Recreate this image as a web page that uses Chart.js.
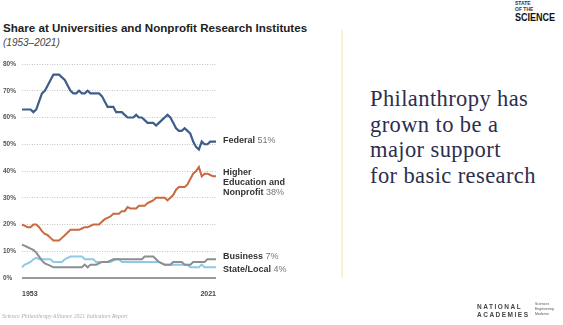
<!DOCTYPE html>
<html>
<head>
<meta charset="utf-8">
<script src="https://cdn.jsdelivr.net/npm/chart.js@4.4.1/dist/chart.umd.min.js"></script>
<style>
  html, body { margin: 0; padding: 0; background: #fff; }
  body { width: 563px; height: 325px; position: relative; overflow: hidden; font-family: 'Liberation Sans', Arial, sans-serif; }
  #wrap { position: absolute; left: 0; top: 0; width: 330px; height: 325px; }
  .t { position: absolute; white-space: nowrap; }
  #rule { position: absolute; left: 341px; top: 30px; width: 2px; height: 248px; background: #fbf1d4; }
  #msg { left: 370px; top: 86px; font-family: 'Liberation Serif', 'DejaVu Serif', serif; font-size: 22.5px; line-height: 25.5px; color: #2c2e4e; letter-spacing: 0.4px; }
</style>
</head>
<body>
<div class="t" style="left:3px;top:21px;font-weight:bold;font-size:11.6px;color:#222">Share at Universities and Nonprofit Research Institutes</div>
<div class="t" style="left:3px;top:37px;font-style:italic;font-size:10px;color:#444">(1953–2021)</div>
<div id="wrap"><canvas id="myChart"></canvas></div>
<div id="rule"></div>
<div class="t" id="msg">Philanthropy has<br>grown to be a<br>major support<br>for basic research</div>

<div class="t" style="left:515px;top:1px;font-size:5px;line-height:5.5px;font-weight:bold;color:#333">STATE<br>OF THE</div>
<div class="t" style="left:515px;top:11px;font-size:11px;font-weight:900;color:#111;transform:scaleX(0.82);transform-origin:left top">SCIENCE</div>

<div class="t" style="left:2px;top:313px;font-family:'Liberation Serif',serif;font-style:italic;font-size:5.8px;color:#aaa">Science Philanthropy Alliance 2021 Indicators Report</div>
<div class="t" style="left:477px;top:303px;font-size:6.5px;line-height:8px;font-weight:bold;letter-spacing:1.5px;color:#444">NATIONAL<br>ACADEMIES</div>
<div class="t" style="left:535px;top:302px;font-size:3.5px;line-height:5px;color:#555">Sciences<br>Engineering<br>Medicine</div>

<script>
// years 1953..2021
var years = [];
for (var y = 1953; y <= 2021; y++) years.push(String(y));

var seriesNames = ['Federal', 'Higher\nEducation and\nNonprofit', 'Business', 'State/Local'];

var federal = [63, 63, 63, 63, 62, 63, 66, 69, 70, 72,
               74, 76, 76, 76, 75, 74, 72, 70, 69, 69,
               70, 69, 69, 70, 69, 69, 69, 69, 68, 66,
               64, 64, 64, 62, 62, 62, 61, 60, 60, 60,
               61, 60, 60, 59, 58, 58, 58, 57, 58, 59,
               60, 61, 60, 58, 56, 55, 55, 56, 55, 54,
               51, 49, 48, 51, 50, 50, 51, 51, 51];

var higherEd = [20, 19.5, 19, 19, 20, 20, 19, 17.5, 16.5, 16,
                15, 14, 14, 14, 15, 16, 17, 18, 18, 18,
                18, 18.5, 19, 19, 19.5, 20, 20, 20, 21, 22,
                22.5, 23, 24, 24, 24, 25, 25, 26.5, 26, 26,
                26, 27, 27, 27, 28, 28.5, 29, 30, 30, 30,
                30, 29, 30, 31, 33, 34, 34, 34, 35, 37,
                39, 40, 41.5, 38, 39, 39, 38.5, 38, 38];

var business = [12.5, 12, 11.5, 11, 10.5, 9.5, 8, 6.5, 5.5, 5,
                4.5, 4, 4, 4, 4, 4, 4, 4, 4, 4,
                4, 4, 5, 4, 5, 5, 5, 5.5, 6, 6,
                6, 6.5, 7, 7, 7, 7, 7, 7, 7, 7,
                7, 7, 7, 8, 8, 8, 8, 7, 6, 5.5,
                5, 5, 5, 6, 6, 6, 6, 5, 5, 5,
                6, 6, 6, 6, 6, 7, 7, 7, 7];

var stateLocal = [4, 5, 5.5, 6, 7, 7.5, 7, 7, 7, 7,
                  7, 6, 6, 6, 6, 7, 7.5, 8, 8, 8,
                  8, 8, 7, 7, 7, 7, 6, 6, 6, 6,
                  6, 6, 6.5, 7, 7, 6, 6, 6, 6, 6,
                  6, 6, 6, 6, 6, 6, 6, 6, 6, 5.5,
                  5, 5, 5, 5, 5, 5, 5, 5, 5, 4,
                  4, 4, 4, 5, 4, 4, 4, 4, 4];

var yTicks = [0, 10, 20, 30, 40, 50, 60, 70, 80];

// labels at the right end of each line
var endLabels = {
  id: 'endLabels',
  afterDatasetsDraw: function(chart) {
    var ctx = chart.ctx;
    var x = chart.chartArea.right + 7;
    var dys = [-1.5, -4, -2.5, 2];
    ctx.save();
    ctx.textBaseline = 'middle';
    chart.data.datasets.forEach(function(ds, i) {
      var meta = chart.getDatasetMeta(i);
      var pt = meta.data[meta.data.length - 1];
      var lines = seriesNames[i].split('\n');
      var pct = Math.round(ds.data[ds.data.length - 1]) + '%';
      var yy = pt.y + dys[i];
      lines.forEach(function(line, j) {
        ctx.font = 'bold 9px "Liberation Sans", Arial, sans-serif';
        ctx.fillStyle = '#333';
        ctx.fillText(line, x, yy + j * 10.3);
        if (j === lines.length - 1) {
          var w = ctx.measureText(line + ' ').width;
          ctx.font = '9px "Liberation Sans", Arial, sans-serif';
          ctx.fillStyle = '#777';
          ctx.fillText(pct, x + w, yy + j * 10.3);
        }
      });
    });
    ctx.restore();
  }
};

var ctx = document.getElementById('myChart').getContext('2d');
var myChart = new Chart(ctx, {
  type: 'line',
  data: {
    labels: years,
    datasets: [{
        label: 'Federal',
        data: federal,
        borderColor: '#3d5d8a',
        borderWidth: 2.2
      }, {
        label: 'Higher Education and Nonprofit',
        data: higherEd,
        borderColor: '#c96a3f',
        borderWidth: 2
      }, {
        label: 'Business',
        data: business,
        borderColor: '#8b8f91',
        borderWidth: 2
      }, {
        label: 'State/Local',
        data: stateLocal,
        borderColor: '#8ecae6',
        borderWidth: 2
      }
    ]
  },
  options: {
    responsive: true,
    maintainAspectRatio: false,
    animation: false,
    layout: { padding: { top: 64, left: 3, right: 114, bottom: 27 } },
    elements: { point: { radius: 0 }, line: { tension: 0 } },
    plugins: {
      legend: { display: false },
      tooltip: { enabled: false }
    },
    scales: {
      x: {
        grid: { display: false },
        border: { display: false },
        afterFit: function(s) { s.height = 20; },
        ticks: {
          autoSkip: false,
          maxRotation: 0,
          align: 'inner',
          padding: 4,
          color: '#444',
          font: { size: 7, weight: 'bold' },
          callback: function(v, i) {
            return (i === 0 || i === years.length - 1) ? years[i] : null;
          }
        }
      },
      y: {
        min: 0,
        max: 80,
        afterFit: function(s) { s.width = 19; },
        afterBuildTicks: function(s) { s.ticks = yTicks.map(function(v) { return { value: v }; }); },
        grid: {
          drawTicks: false,
          color: function(c) { return c.tick && c.tick.value === 0 ? '#9a9a9a' : '#c4c4c4'; },
          lineWidth: function(c) { return c.tick && c.tick.value === 0 ? 2 : 1; }
        },
        border: {
          display: false,
          dash: function(c) { return c.tick && c.tick.value === 0 ? [] : [1, 1.5]; }
        },
        ticks: {
          crossAlign: 'far',
          color: '#555',
          font: { size: 6.5, weight: 'bold' },
          callback: function(v) { return v + '%'; }
        }
      }
    }
  },
  plugins: [endLabels]
});
</script>
</body>
</html>
